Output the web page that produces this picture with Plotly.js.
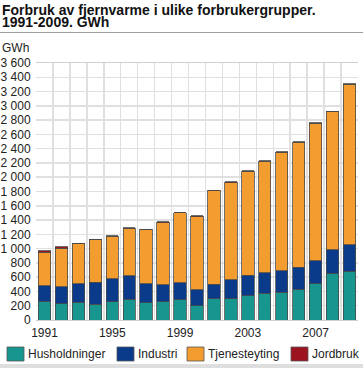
<!DOCTYPE html>
<html>
<head>
<meta charset="utf-8">
<script src="https://cdn.plot.ly/plotly-3.0.1.min.js"></script>
<style>
html,body{margin:0;padding:0;background:#fff;}
#chart{width:363px;height:368px;}
</style>
</head>
<body>
<div id="chart"></div>
<script>
// ---- data ----
var years = [1991,1992,1993,1994,1995,1996,1997,1998,1999,2000,2001,2002,2003,2004,2005,2006,2007,2008,2009];
var husholdninger = [264,231,250,222,254,292,245,259,282,203,296,296,339,376,390,432,506,656,684];
var industri      = [219,233,261,308,322,326,261,238,243,224,205,266,289,289,303,308,322,331,373];
var tjenesteyting = [467,542,560,592,598,667,756,868,975,1017,1311,1364,1454,1560,1656,1753,1931,1930,2244];
var jordbruk      = [22,22,5,5,5,5,10,14,5,14,6,8,8,5,6,6,6,6,6];
var seriesNames = ["Husholdninger","Industri","Tjenesteyting","Jordbruk"];
var xTickVals = [1991,1995,1999,2003,2007];
var yTickVals = [0,200,400,600,800,1000,1200,1400,1600,1800,2000,2200,2400,2600,2800,3000,3200,3400,3600];

var colors = ["#17968f","#0a3a8a","#f39c2f","#9b1420"];
var seriesData = [husholdninger, industri, tjenesteyting, jordbruk];

var W = 363, H = 368;
var M = {l:36, r:5, t:63, b:48};
var PW = W - M.l - M.r, PH = H - M.t - M.b;
function px(x){ return (x - M.l)/PW; }
function py(y){ return (H - M.b - y)/PH; }

var traces = seriesData.map(function(vals, i){
  return {
    type:'bar', x: years, y: vals, name: seriesNames[i],
    marker:{color: colors[i], line:{color:'#4a4a4a', width:0.8}},
    showlegend:false, hoverinfo:'skip'
  };
});

var font = "Liberation Sans, Arial, sans-serif";
var annotations = [
  {text:"<b>Forbruk av fjernvarme i ulike forbrukergrupper.</b>", xref:'paper', yref:'paper',
   x:px(1), y:py(9.5), xanchor:'left', yanchor:'middle', showarrow:false,
   font:{family:font, size:14, color:'#111'}, borderpad:0},
  {text:"<b>1991-2009. GWh</b>", xref:'paper', yref:'paper',
   x:px(1), y:py(22.5), xanchor:'left', yanchor:'middle', showarrow:false,
   font:{family:font, size:14, color:'#111'}, borderpad:0},
  {text:"GWh", xref:'paper', yref:'paper', x:px(1), y:py(47.5), xanchor:'left', yanchor:'middle',
   showarrow:false, font:{family:font, size:12, color:'#222'}, borderpad:0}
];

var shapes = [
  {type:'line', xref:'paper', yref:'paper', x0:px(0), x1:px(W), y0:py(32.5), y1:py(32.5),
   line:{color:'#a0a0a0', width:1}},
  {type:'rect', xref:'paper', yref:'paper', x0:px(0), x1:px(W), y0:py(364), y1:py(368),
   fillcolor:'#dedede', line:{width:0}}
];

var legendBoxX = [7,117,187,291];
for (var i=0;i<seriesNames.length;i++){
  shapes.push({type:'rect', xref:'paper', yref:'paper', x0:px(legendBoxX[i]), x1:px(legendBoxX[i]+17),
    y0:py(361), y1:py(347), fillcolor:colors[i], line:{color:'#555', width:0.8}});
  annotations.push({text:seriesNames[i], xref:'paper', yref:'paper', x:px(legendBoxX[i]+20), y:py(354),
    xanchor:'left', yanchor:'middle', showarrow:false, font:{family:font, size:12, color:'#222'}, borderpad:0});
}

var layout = {
  width:W, height:H, margin:M, barmode:'stack', bargap:0.27,
  paper_bgcolor:'#fff', plot_bgcolor:'#fff',
  separators:', ',
  font:{family:font, size:12, color:'#222'},
  xaxis:{
    range:[1990.5, 2009.5], tickvals:xTickVals, ticktext:xTickVals.map(String),
    showgrid:false, zeroline:false, showline:true, linecolor:'#d0d0d0', linewidth:1, mirror:true,
    ticks:'outside', ticklen:2, tickcolor:'rgba(0,0,0,0)',
    minor:{tick0:1990.5, dtick:1, showgrid:true, gridcolor:'#e0e0e0', gridwidth:1.5, ticks:''},
    tickfont:{family:font, size:12, color:'#222'}, fixedrange:true
  },
  yaxis:{
    range:[0,3600], tickvals:yTickVals, separatethousands:true,
    showgrid:true, gridcolor:'#e0e0e0', gridwidth:1.5, zeroline:false,
    showline:false, ticks:'outside', ticklen:2, tickcolor:'rgba(0,0,0,0)',
    tickfont:{family:font, size:12, color:'#222'}, fixedrange:true
  },
  annotations:annotations, shapes:shapes, showlegend:false
};

Plotly.newPlot('chart', traces, layout, {displayModeBar:false, staticPlot:true});
</script>
</body>
</html>
